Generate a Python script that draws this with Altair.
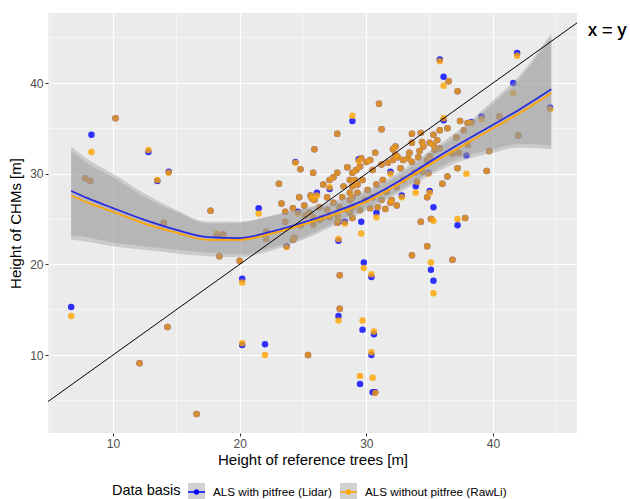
import altair as alt
import pandas as pd

# ---------------- data ----------------
ref_height = [
    6.7, 8.3, 7.8, 8.2, 10.2, 12.8, 13.5, 14.4, 14.0, 12.1, 14.3, 16.6, 17.7, 18.2, 18.7, 18.4,
    20.0, 20.2, 20.2, 22.0, 25.4,
    21.5, 22.1, 22.1, 23.1, 23.3, 23.6, 23.6, 23.7, 24.2, 24.3, 24.2, 24.4, 24.6, 24.7, 24.8,
    24.8, 25.1, 25.2, 25.5, 25.6, 25.7, 25.8, 25.8, 25.8, 25.9, 25.9, 26.1, 26.3, 26.3, 26.5,
    26.6, 26.9, 26.9, 27.1, 27.1, 27.1, 27.4, 27.4, 27.7, 27.7, 27.7, 27.7, 27.8, 27.8, 27.9,
    28.1, 28.2, 28.3, 28.5, 28.5, 28.7, 28.7, 28.7, 28.7, 28.9, 28.9, 28.9, 28.9, 28.9, 28.9,
    29.1, 29.2, 29.3, 29.3, 29.4, 29.5, 29.5, 29.6, 29.6, 29.7, 29.9, 30.0, 30.1, 30.3, 30.3,
    30.5, 30.5, 30.7, 30.8, 30.8, 30.9, 31.0, 31.2, 31.2, 31.2, 31.3, 31.5, 31.6, 31.7, 31.9,
    31.9, 32.0, 32.1, 32.1, 32.3, 32.3, 32.4, 32.4, 32.5, 32.7, 32.8, 32.9, 32.9, 33.3, 33.4,
    33.6, 33.6, 33.6, 33.8, 33.9, 34.0, 34.1, 34.2, 34.3, 34.3, 34.4, 34.4, 34.5, 34.8, 34.8,
    34.9, 35.0, 35.0, 35.0, 35.1, 35.3, 35.3, 35.3, 35.4, 35.6, 35.8, 35.8, 35.8, 36.0, 36.1,
    36.1, 36.4, 36.4, 36.5, 36.8, 37.1, 37.2, 37.2, 37.2, 37.3, 37.4, 37.7, 37.8, 37.9, 38.0,
    38.0, 38.3, 39.1, 39.5, 39.7, 40.5, 41.6, 41.9, 42.0, 44.5,
    27.9, 27.9, 27.8, 29.8, 30.4, 29.7, 30.6, 30.4, 29.5, 30.5, 30.7, 33.6, 34.8, 35.1, 35.3, 36.8,
]
chm_lidar = [
    15.3, 34.3, 29.5, 29.2, 36.1, 32.4, 29.2, 30.2, 24.6, 9.1, 13.1, 3.5, 25.9, 23.2, 23.3, 20.9,
    20.4, 18.4, 11.1, 11.2, 10.0,
    26.2, 23.6, 22.8, 28.9, 26.7, 25.8, 24.7, 22.0, 22.7, 22.9, 26.2, 31.3, 25.8, 27.4, 30.5,
    24.3, 26.5, 25.4, 25.7, 27.6, 27.3, 30.1, 25.2, 24.4, 32.7, 27.1, 27.9, 26.3, 24.9, 25.1,
    28.8, 27.4, 26.0, 28.3, 29.3, 25.2, 29.6, 26.8, 34.4, 30.1, 25.4, 24.6, 24.7, 22.6, 26.3,
    27.4, 28.6, 24.7, 30.7, 26.0, 27.9, 27.1, 29.3, 25.7, 35.8, 30.1, 28.6, 27.4, 26.3, 25.1,
    29.3, 30.4, 28.8, 27.9, 31.6, 30.8, 26.0, 31.7, 24.7, 29.3, 27.1, 31.3, 28.2, 31.5, 26.2,
    30.4, 27.4, 32.3, 28.8, 25.7, 26.3, 37.7, 34.9, 31.0, 27.1, 29.3, 26.1, 28.0, 31.2, 30.2,
    26.8, 27.1, 31.5, 32.7, 33.0, 32.1, 28.5, 26.5, 31.8, 30.6, 27.6, 31.5, 29.3, 31.7, 32.3,
    34.4, 33.4, 31.3, 30.1, 28.6, 29.1, 31.8, 32.5, 34.5, 24.7, 33.5, 30.2, 33.0, 31.5, 27.4,
    30.1, 28.1, 33.4, 31.9, 25.0, 26.3, 34.3, 33.2, 32.6, 33.7, 42.6, 34.8, 32.8, 28.9, 40.7,
    35.9, 35.0, 29.7, 40.2, 32.2, 34.0, 39.1, 30.6, 24.3, 32.3, 35.8, 34.8, 25.1, 32.0, 35.6,
    33.2, 35.7, 36.3, 30.3, 32.5, 36.3, 40.0, 43.3, 34.2, 37.3,
    18.8, 15.1, 14.3, 20.2, 18.6, 12.8, 12.3, 10.0, 6.8, 5.9, 5.9, 21.0, 22.0, 19.4, 18.2, 20.5,
]
chm_rawli = [
    14.3, 32.4, 29.5, 29.2, 36.1, 32.6, 29.3, 30.1, 24.6, 9.1, 13.1, 3.5, 25.9, 23.4, 23.3, 20.9,
    20.4, 18.0, 11.3, 10.0, 10.0,
    25.6, 23.6, 22.8, 28.9, 26.7, 25.8, 24.7, 21.9, 22.7, 22.9, 26.2, 31.2, 25.6, 27.4, 30.5,
    24.3, 26.5, 25.4, 25.7, 27.6, 27.3, 30.1, 25.2, 24.4, 32.7, 27.1, 27.6, 26.3, 24.9, 25.1,
    28.8, 27.4, 26.0, 28.5, 29.3, 25.2, 29.6, 26.8, 34.4, 30.1, 25.4, 24.6, 24.9, 22.8, 26.3,
    27.4, 28.6, 24.5, 30.7, 26.0, 27.9, 27.1, 29.3, 25.7, 36.4, 30.1, 28.6, 27.4, 26.3, 25.1,
    29.3, 30.4, 28.8, 27.9, 31.4, 30.8, 26.0, 31.7, 23.4, 29.3, 27.1, 31.3, 28.2, 31.5, 26.2,
    30.4, 27.4, 32.3, 28.8, 25.2, 26.3, 37.7, 34.9, 31.0, 27.1, 29.3, 26.1, 28.0, 31.2, 30.0,
    26.8, 27.1, 31.5, 32.7, 33.0, 32.1, 28.5, 26.5, 31.8, 30.6, 27.4, 31.5, 29.3, 31.7, 32.3,
    34.4, 33.4, 31.3, 30.1, 27.9, 29.1, 31.8, 32.5, 34.5, 24.7, 33.5, 30.2, 33.0, 31.5, 27.4,
    30.0, 27.9, 33.4, 31.9, 25.0, 24.8, 34.3, 33.2, 32.6, 33.7, 42.4, 34.8, 32.8, 28.9, 39.7,
    36.1, 35.0, 29.7, 40.2, 32.2, 34.0, 39.1, 30.6, 25.0, 32.3, 35.8, 34.8, 25.1, 30.0, 35.6,
    33.2, 35.6, 36.0, 30.3, 32.5, 36.3, 38.9, 43.0, 34.2, 37.1,
    18.8, 15.1, 13.8, 19.6, 18.9, 13.8, 12.6, 10.3, 7.7, 7.5, 5.8, 21.0, 22.0, 20.2, 16.8, 20.5,
]

# loess fits with 95% bands
smooth_x = [6.7, 8, 10, 12.5, 15, 17.5, 20, 22.5, 25, 27.5, 30, 32.5, 35, 37.5, 40, 42, 44.6]
lidar_fit = [28.1, 27.3, 26.2, 24.9, 23.8, 23.0, 22.9, 23.6, 24.6, 25.8, 27.2, 29.1, 31.3, 33.4, 35.4, 37.0, 39.3]
lidar_lo = [23.2, 23.0, 22.4, 22.0, 21.6, 21.3, 21.1, 21.8, 23.0, 24.6, 26.2, 28.1, 30.1, 31.8, 32.7, 33.3, 33.1]
lidar_hi = [33.0, 31.6, 30.0, 27.8, 26.0, 24.7, 24.7, 25.4, 26.2, 27.0, 28.2, 30.1, 32.5, 35.0, 38.1, 40.7, 45.5]
rawli_fit = [27.6, 26.8, 25.8, 24.5, 23.5, 22.7, 22.7, 23.4, 24.4, 25.5, 26.9, 28.8, 31.0, 33.0, 35.0, 36.6, 38.9]
rawli_lo = [22.7, 22.5, 22.0, 21.6, 21.2, 20.9, 20.8, 21.5, 22.7, 24.3, 25.9, 27.8, 29.8, 31.4, 32.3, 32.9, 32.7]
rawli_hi = [32.5, 31.1, 29.6, 27.4, 25.8, 24.5, 24.6, 25.3, 26.1, 26.7, 27.9, 29.8, 32.2, 34.6, 37.7, 40.3, 45.1]

x_limits = [4.87, 46.63]
y_limits = [1.40, 47.72]
major_ticks = [10, 20, 30, 40]
minor_grid = [5, 15, 25, 35, 45]

LIDAR = "ALS with pitfree (Lidar)"
RAWLI = "ALS without pitfree (RawLi)"

# ---------------- tables ----------------
pts = pd.concat([
    pd.DataFrame({"ref": ref_height, "chm": chm_lidar, "basis": LIDAR}),
    pd.DataFrame({"ref": ref_height, "chm": chm_rawli, "basis": RAWLI}),
], ignore_index=True)

smooth = pd.concat([
    pd.DataFrame({"x": smooth_x, "fit": lidar_fit, "lo": lidar_lo, "hi": lidar_hi,
                  "band_basis": LIDAR, "line_basis": LIDAR}),
    pd.DataFrame({"x": smooth_x, "fit": rawli_fit, "lo": rawli_lo, "hi": rawli_hi,
                  "band_basis": RAWLI, "line_basis": RAWLI}),
], ignore_index=True)

identity = pd.DataFrame({"v": x_limits})
minor = pd.DataFrame({"v": minor_grid})

FONT = "Liberation Sans"
xs = alt.Scale(domain=x_limits, nice=False, zero=False)
ys = alt.Scale(domain=y_limits, nice=False, zero=False)

axis_common = dict(values=major_ticks, grid=True, gridColor="white", gridWidth=1.2,
                   domain=False, tickColor="#333333", tickSize=3, tickWidth=1,
                   labelColor="#4D4D4D", labelFontSize=12, labelPadding=2,
                   titleFontSize=15, titleFontWeight="normal", titleColor="black")
x_axis = alt.Axis(title="Height of reference trees [m]", titlePadding=3, **axis_common)
y_axis = alt.Axis(title="Height of CHMs [m]", titlePadding=6, **axis_common)

LEG_X, LEG_Y = 64, 470
legend_common = dict(orient="none", legendY=LEG_Y, direction="horizontal",
                     symbolSize=289, symbolStrokeWidth=0, padding=0)

key_path = ("M-1,-0.09L1,-0.09L1,0.09L-1,0.09Z "
            "M0.32,0A0.32,0.32,0,1,1,-0.32,0A0.32,0.32,0,1,1,0.32,0Z")
color_legend = alt.Legend(legendX=LEG_X, title="Data basis", titleOrient="left",
                          titleFontSize=14.5, titleFontWeight="normal", titleColor="black",
                          titlePadding=7, titleBaseline="middle", titleAnchor="middle",
                          labelFontSize=11.7, labelColor="black", labelOffset=8,
                          columnPadding=8, symbolType=key_path, symbolOpacity=1, zindex=2,
                          **legend_common)
# grey key backgrounds, sitting under the coloured keys
band_legend = alt.Legend(legendX=LEG_X + 76, title=None, labelExpr="''", labelOffset=0,
                         columnPadding=135, symbolType="square", symbolOpacity=0.45,
                         zindex=1, **legend_common)

# ---------------- layers ----------------
vgrid = alt.Chart(minor).mark_rule(color="white", strokeWidth=0.55).encode(
    x=alt.X("v:Q", scale=xs, axis=x_axis))
hgrid = alt.Chart(minor).mark_rule(color="white", strokeWidth=0.55).encode(
    y=alt.Y("v:Q", scale=ys, axis=y_axis))

points = alt.Chart(pts).mark_circle(size=42, opacity=0.8).encode(
    x=alt.X("ref:Q", scale=xs, axis=x_axis),
    y=alt.Y("chm:Q", scale=ys, axis=y_axis),
    color=alt.Color("basis:N", scale=alt.Scale(domain=[LIDAR, RAWLI],
                                               range=["#0000FF", "#FFA500"]),
                    legend=color_legend),
)

bands = alt.Chart(smooth).mark_area(opacity=0.4, interpolate="monotone").encode(
    x=alt.X("x:Q", scale=xs, axis=x_axis),
    y=alt.Y("lo:Q", scale=ys, axis=y_axis),
    y2="hi:Q",
    fill=alt.Fill("band_basis:N", scale=alt.Scale(range=["#999999", "#999999"]),
                  legend=band_legend),
)

lines = alt.Chart(smooth).mark_line(strokeWidth=1.8, interpolate="monotone").encode(
    x=alt.X("x:Q", scale=xs, axis=x_axis),
    y=alt.Y("fit:Q", scale=ys, axis=y_axis),
    stroke=alt.Stroke("line_basis:N", scale=alt.Scale(range=["#2B2BDD", "#FFA500"]),
                      legend=None),
)

abline = alt.Chart(identity).mark_line(color="black", strokeWidth=1).encode(
    x=alt.X("v:Q", scale=xs, axis=x_axis),
    y=alt.Y("v:Q", scale=ys, axis=y_axis),
)

label = alt.Chart(identity).mark_text(
    text="x = y", fontSize=18, font=FONT, fontWeight="normal", align="left",
    baseline="middle", color="black"
).encode(x=alt.value(540), y=alt.value(18))

chart = alt.layer(vgrid, hgrid, points, bands, lines, abline, label).properties(
    width=529, height=420,
    padding={"left": 48, "top": 13, "right": 53, "bottom": 66},
    autosize=alt.AutoSizeParams(type="none"),
).configure(font=FONT).configure_view(fill="#EBEBEB", stroke=None)

chart.save("out.html", embed_options={"renderer": "svg", "actions": False})
